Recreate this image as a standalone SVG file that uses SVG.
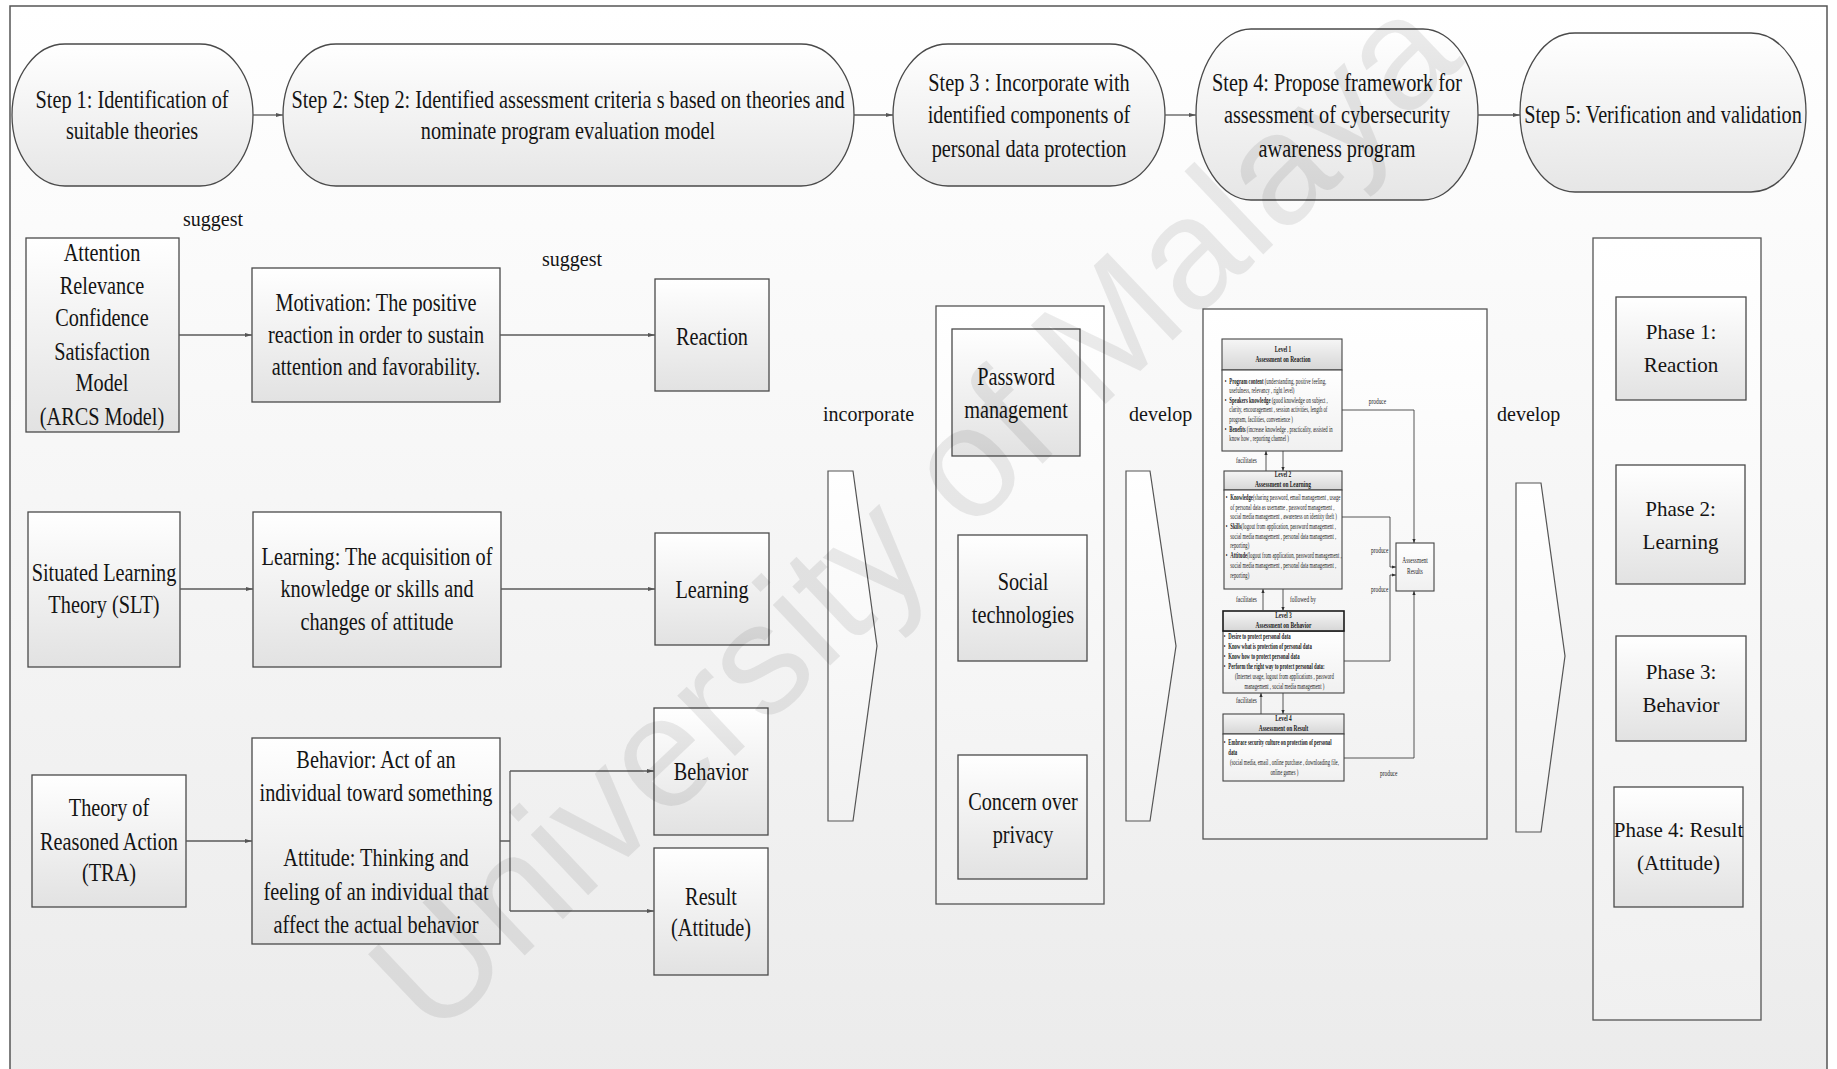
<svg xmlns="http://www.w3.org/2000/svg" width="1837" height="1069" viewBox="0 0 1837 1069">
<defs>
  <linearGradient id="gPanel" x1="0" y1="0" x2="0" y2="1"><stop offset="0" stop-color="#ffffff"/><stop offset="1" stop-color="#ebebeb"/></linearGradient>
  <linearGradient id="gBox" x1="0" y1="0" x2="0" y2="1"><stop offset="0" stop-color="#ffffff"/><stop offset="1" stop-color="#e2e2e2"/></linearGradient>
  <linearGradient id="gStep" x1="0" y1="0" x2="0" y2="1"><stop offset="0" stop-color="#ffffff"/><stop offset="1" stop-color="#e6e6e6"/></linearGradient>
  <linearGradient id="gCont" x1="0" y1="0" x2="0" y2="1"><stop offset="0" stop-color="#ffffff"/><stop offset="1" stop-color="#f0f0f0"/></linearGradient>
  <linearGradient id="gHead" x1="0" y1="0" x2="0" y2="1"><stop offset="0" stop-color="#f6f6f6"/><stop offset="1" stop-color="#d6d6d6"/></linearGradient>
  <linearGradient id="gChev" x1="0" y1="0" x2="0" y2="1"><stop offset="0" stop-color="#ffffff"/><stop offset="1" stop-color="#f2f2f2"/></linearGradient>
  <marker id="ah" viewBox="0 0 10 10" refX="10" refY="5" markerWidth="7" markerHeight="7" orient="auto" markerUnits="userSpaceOnUse"><path d="M0,2 L10,5 L0,8 z" fill="#555"/></marker>
  <marker id="ahs" viewBox="0 0 10 10" refX="10" refY="5" markerWidth="4" markerHeight="4" orient="auto" markerUnits="userSpaceOnUse"><path d="M0,1 L10,5 L0,9 z" fill="#333"/></marker>
</defs>
<style>
.box{stroke:#4a4a4a;stroke-width:1.3;fill:url(#gBox)}
.cont{stroke:#555;stroke-width:1.3;fill:url(#gCont)}
.step{stroke:#4a4a4a;stroke-width:1.3;fill:url(#gStep)}
.chev{stroke:#555;stroke-width:1.2;fill:url(#gChev)}
.head{stroke:#444;stroke-width:1.1;fill:url(#gHead)}
.body{stroke:#444;stroke-width:1.1;fill:url(#gCont)}
.ln{stroke:#5a5a5a;stroke-width:1.3;fill:none;marker-end:url(#ah)}
.fl{stroke:#444;stroke-width:0.9;fill:none;marker-end:url(#ahs)}
.t{font-family:"Liberation Serif","Times New Roman",serif;font-size:26px;fill:#141414;text-anchor:middle}
.lab{font-family:"Liberation Serif","Times New Roman",serif;font-size:20px;fill:#141414}
.ph{font-family:"Liberation Serif","Times New Roman",serif;font-size:21px;fill:#141414;text-anchor:middle}
.s{font-family:"Liberation Serif","Times New Roman",serif;font-size:7.2px;fill:#222}
.sb{font-weight:bold}
.sc{text-anchor:middle}
.wm{font-family:"Liberation Sans",Arial,sans-serif;font-size:158px;fill:#000;fill-opacity:0.08}
</style>

<!-- outer panel -->
<rect x="10" y="6" width="1817" height="1090" fill="url(#gPanel)" stroke="#555" stroke-width="1.5"/>

<!-- process steps -->
<g id="step1">
  <path class="step" d="M65,44 H200 A53,71 0 0 1 200,186 H65 A53,71 0 0 1 65,44 Z"/>
  <g transform="translate(132 0) scale(0.78 1)"><text class="t" y="108">Step 1: Identification of</text><text class="t" y="139">suitable theories</text></g>
</g>
<g id="step2">
  <path class="step" d="M336,44 H801 A53,71 0 0 1 801,186 H336 A53,71 0 0 1 336,44 Z"/>
  <g transform="translate(568 0) scale(0.78 1)"><text class="t" y="108">Step 2: Step 2: Identified assessment criteria  s based on theories and</text><text class="t" y="139">nominate program evaluation model</text></g>
</g>
<g id="step3">
  <path class="step" d="M948,44 H1110 A55,71 0 0 1 1110,186 H948 A55,71 0 0 1 948,44 Z"/>
  <g transform="translate(1029 0) scale(0.78 1)"><text class="t" y="91">Step 3 : Incorporate with</text><text class="t" y="123">identified components of</text><text class="t" y="157">personal data protection</text></g>
</g>
<g id="step4">
  <path class="step" d="M1251,29 H1423 A55,85.5 0 0 1 1423,200 H1251 A55,85.5 0 0 1 1251,29 Z"/>
  <g transform="translate(1337 0) scale(0.78 1)"><text class="t" y="91">Step 4: Propose framework for</text><text class="t" y="123">assessment of cybersecurity</text><text class="t" y="157">awareness program</text></g>
</g>
<g id="step5">
  <path class="step" d="M1575,33 H1751 A55,79.5 0 0 1 1751,192 H1575 A55,79.5 0 0 1 1575,33 Z"/>
  <g transform="translate(1663 0) scale(0.78 1)"><text class="t" y="123">Step 5: Verification and validation</text></g>
</g>

<!-- theories -->
<g id="arcs">
  <rect class="box" x="26" y="238" width="153" height="194"/>
  <g transform="translate(102 0) scale(0.78 1)">
    <text class="t" y="261">Attention</text><text class="t" y="294">Relevance</text><text class="t" y="326">Confidence</text>
    <text class="t" y="360">Satisfaction</text><text class="t" y="391">Model</text><text class="t" y="425">(ARCS Model)</text>
  </g>
</g>
<g id="slt">
  <rect class="box" x="28" y="512" width="152" height="155"/>
  <g transform="translate(104 0) scale(0.78 1)"><text class="t" y="581">Situated Learning</text><text class="t" y="613">Theory (SLT)</text></g>
</g>
<g id="tra">
  <rect class="box" x="32" y="775" width="154" height="132"/>
  <g transform="translate(109 0) scale(0.78 1)"><text class="t" y="816">Theory of</text><text class="t" y="850">Reasoned Action</text><text class="t" y="881">(TRA)</text></g>
</g>

<!-- criteria -->
<g id="motivation">
  <rect class="box" x="252" y="268" width="248" height="134"/>
  <g transform="translate(376 0) scale(0.78 1)"><text class="t" y="311">Motivation: The positive</text><text class="t" y="343">reaction in order to sustain</text><text class="t" y="375">attention and favorability.</text></g>
</g>
<g id="learning-def">
  <rect class="box" x="253" y="512" width="248" height="155"/>
  <g transform="translate(377 0) scale(0.78 1)"><text class="t" y="565">Learning: The acquisition of</text><text class="t" y="597">knowledge or skills and</text><text class="t" y="630">changes of attitude</text></g>
</g>
<g id="behavior-attitude">
  <rect class="box" x="252" y="738" width="248" height="206"/>
  <g transform="translate(376 0) scale(0.78 1)">
    <text class="t" y="768">Behavior: Act of an</text><text class="t" y="801">individual toward something</text>
    <text class="t" y="866">Attitude: Thinking and</text><text class="t" y="900">feeling of an individual that</text><text class="t" y="933">affect the actual behavior</text>
  </g>
</g>

<!-- evaluation levels -->
<g id="reaction">
  <rect class="box" x="655" y="279" width="114" height="112"/>
  <g transform="translate(712 0) scale(0.78 1)"><text class="t" y="345">Reaction</text></g>
</g>
<g id="learning">
  <rect class="box" x="655" y="533" width="114" height="112"/>
  <g transform="translate(712 0) scale(0.78 1)"><text class="t" y="598">Learning</text></g>
</g>
<g id="behavior">
  <rect class="box" x="654" y="708" width="114" height="127"/>
  <g transform="translate(711 0) scale(0.78 1)"><text class="t" y="780">Behavior</text></g>
</g>
<g id="result">
  <rect class="box" x="654" y="848" width="114" height="127"/>
  <g transform="translate(711 0) scale(0.78 1)"><text class="t" y="905">Result</text><text class="t" y="936">(Attitude)</text></g>
</g>

<!-- flow labels and chevrons -->
<g id="labels">
  <text class="lab" x="183" y="226">suggest</text>
  <text class="lab" x="542" y="266">suggest</text>
  <text class="lab" x="823" y="421">incorporate</text>
  <text class="lab" x="1129" y="421">develop</text>
  <text class="lab" x="1497" y="421">develop</text>
</g>
<g id="chevron1"><path class="chev" d="M828,471 H853 L877,646 L853,821 H828 Z"/></g>
<g id="chevron2"><path class="chev" d="M1126,471 H1150 L1176,646 L1150,821 H1126 Z"/></g>
<g id="chevron3"><path class="chev" d="M1516,483 H1541 L1565,656 L1541,832 H1516 Z"/></g>

<!-- personal data protection components -->
<g id="components">
  <rect class="cont" x="936" y="306" width="168" height="598"/>
  <g id="password">
    <rect class="box" x="952" y="329" width="128" height="127"/>
    <g transform="translate(1016 0) scale(0.78 1)"><text class="t" y="385">Password</text><text class="t" y="418">management</text></g>
  </g>
  <g id="social">
    <rect class="box" x="958" y="535" width="129" height="126"/>
    <g transform="translate(1023 0) scale(0.78 1)"><text class="t" y="590">Social</text><text class="t" y="623">technologies</text></g>
  </g>
  <g id="privacy">
    <rect class="box" x="958" y="755" width="129" height="124"/>
    <g transform="translate(1023 0) scale(0.78 1)"><text class="t" y="810">Concern over</text><text class="t" y="843">privacy</text></g>
  </g>
</g>

<!-- assessment framework -->
<g id="framework">
  <rect class="cont" x="1203" y="309" width="284" height="530"/>
  <g id="level1">
    <rect class="head" x="1222" y="339" width="120" height="31"/>
    <rect class="body" x="1222" y="370" width="120" height="81"/>
    <g transform="translate(1283 0) scale(0.75 1)"><text class="s sb sc" y="352">Level 1</text><text class="s sb sc" y="362">Assessment on Reaction</text></g>
    <g transform="translate(1224 0) scale(0.66 1)">
      <text class="s" x="1" y="384.5">•</text><text class="s" x="8" y="384.5"><tspan class="sb">Program content</tspan>  (understanding, positive feeling,</text>
      <text class="s" x="8" y="393.5">usefulness, relevancy , right level)</text>
      <text class="s" x="1" y="403.5">•</text><text class="s" x="8" y="403.5"><tspan class="sb">Speakers knowledge</tspan>  (good knowledge on subject ,</text>
      <text class="s" x="8" y="412.5">clarity, encouragement , session activities, length of</text>
      <text class="s" x="8" y="422.5">program, facilities, convenience )</text>
      <text class="s" x="1" y="432.5">•</text><text class="s" x="8" y="432.5"><tspan class="sb">Benefits</tspan> (increase knowledge , practicality, assisted in</text>
      <text class="s" x="8" y="441.5">know how , reporting channel )</text>
    </g>
  </g>
  <g id="level2">
    <rect class="head" x="1224" y="471" width="118" height="19"/>
    <rect class="body" x="1224" y="490" width="118" height="99"/>
    <g transform="translate(1283 0) scale(0.75 1)"><text class="s sb sc" y="477.5">Level 2</text><text class="s sb sc" y="487.5">Assessment on Learning</text></g>
    <g transform="translate(1225 0) scale(0.66 1)">
      <text class="s" x="1" y="500">•</text><text class="s" x="8" y="500"><tspan class="sb">Knowledge</tspan>(sharing password, email management , usage</text>
      <text class="s" x="8" y="510">of personal data as username , password management ,</text>
      <text class="s" x="8" y="519.5">social media management , awareness on identity theft )</text>
      <text class="s" x="1" y="529">•</text><text class="s" x="8" y="529"><tspan class="sb">Skills</tspan>(logout from application, password management ,</text>
      <text class="s" x="8" y="539">social media management , personal data management ,</text>
      <text class="s" x="8" y="548.5">reporting)</text>
      <text class="s" x="1" y="558.5">•</text><text class="s" x="8" y="558.5"><tspan class="sb">Attitude</tspan>(logout from application, password management ,</text>
      <text class="s" x="8" y="568">social media management , personal data management ,</text>
      <text class="s" x="8" y="578">reporting)</text>
    </g>
  </g>
  <g id="level3">
    <rect class="body" x="1223" y="631" width="121" height="62"/>
    <rect class="head" x="1223" y="611" width="121" height="20" style="stroke:#1a1a1a;stroke-width:1.6"/>
    <g transform="translate(1283.5 0) scale(0.75 1)"><text class="s sb sc" y="618">Level 3</text><text class="s sb sc" y="628">Assessment on Behavior</text></g>
    <g transform="translate(1223 0) scale(0.66 1)">
      <text class="s" x="1" y="639.5">•</text><text class="s sb" x="8" y="639.5">Desire to protect personal data</text>
      <text class="s" x="1" y="649.5">•</text><text class="s sb" x="8" y="649.5">Know what is protection of personal data</text>
      <text class="s" x="1" y="659.5">•</text><text class="s sb" x="8" y="659.5">Know how to protect personal data</text>
      <text class="s" x="1" y="669.5">•</text><text class="s sb" x="8" y="669.5">Perform the right way to protect personal data:</text>
      <text class="s sc" x="93" y="679.5">(Internet usage, logout from applications , password</text>
      <text class="s sc" x="93" y="689">management , social media management )</text>
    </g>
  </g>
  <g id="level4">
    <rect class="head" x="1223" y="714" width="121" height="20"/>
    <rect class="body" x="1223" y="734" width="121" height="47"/>
    <g transform="translate(1283.5 0) scale(0.75 1)"><text class="s sb sc" y="721">Level 4</text><text class="s sb sc" y="731.5">Assessment on Result</text></g>
    <g transform="translate(1223 0) scale(0.66 1)">
      <text class="s" x="1" y="745.5">•</text><text class="s sb" x="8" y="745.5">Embrace security culture on protection of personal</text>
      <text class="s sb" x="8" y="755.5">data</text>
      <text class="s sc" x="93" y="765.5">(social media, email , online purchase , downloading file,</text>
      <text class="s sc" x="93" y="775">online games )</text>
    </g>
  </g>
  <g id="assessment-results">
    <rect class="body" x="1396" y="543" width="38" height="48"/>
    <g transform="translate(1415 0) scale(0.75 1)"><text class="s sc" y="563">Assessment</text><text class="s sc" y="574">Results</text></g>
  </g>
  <g id="framework-labels" transform="scale(0.75 1)">
    <text class="s" x="1825" y="404">produce</text>
    <text class="s" x="1828" y="553">produce</text>
    <text class="s" x="1828" y="592">produce</text>
    <text class="s" x="1840" y="776">produce</text>
    <text class="s" x="1648" y="463">facilitates</text>
    <text class="s" x="1648" y="602">facilitates</text>
    <text class="s" x="1720" y="602">followed by</text>
    <text class="s" x="1648" y="703">facilitates</text>
  </g>
</g>

<!-- evaluation phases -->
<g id="phases">
  <rect class="cont" x="1593" y="238" width="168" height="782"/>
  <g id="phase1"><rect class="box" x="1616" y="297" width="130" height="103"/><text class="ph" x="1681" y="339">Phase 1:</text><text class="ph" x="1681" y="372">Reaction</text></g>
  <g id="phase2"><rect class="box" x="1616" y="465" width="129" height="119"/><text class="ph" x="1680.5" y="516">Phase 2:</text><text class="ph" x="1680.5" y="549">Learning</text></g>
  <g id="phase3"><rect class="box" x="1616" y="636" width="130" height="105"/><text class="ph" x="1681" y="679">Phase 3:</text><text class="ph" x="1681" y="712">Behavior</text></g>
  <g id="phase4"><rect class="box" x="1614" y="787" width="129" height="120"/><text class="ph" x="1678.5" y="837">Phase 4: Result</text><text class="ph" x="1678.5" y="870">(Attitude)</text></g>
</g>

<!-- connectors -->
<g id="connectors">
  <line class="ln" x1="253" y1="115" x2="283" y2="115"/>
  <line class="ln" x1="854" y1="115" x2="893" y2="115"/>
  <line class="ln" x1="1165" y1="115" x2="1196" y2="115"/>
  <line class="ln" x1="1478" y1="115" x2="1520" y2="115"/>
  <line class="ln" x1="179" y1="335" x2="252" y2="335"/>
  <line class="ln" x1="500" y1="335" x2="655" y2="335"/>
  <line class="ln" x1="180" y1="589" x2="253" y2="589"/>
  <line class="ln" x1="501" y1="589" x2="655" y2="589"/>
  <line class="ln" x1="186" y1="841" x2="252" y2="841"/>
  <path class="ln" style="marker-end:none" d="M500,841 H510 M510,771 V911"/>
  <line class="ln" x1="510" y1="771" x2="654" y2="771"/>
  <line class="ln" x1="510" y1="911" x2="654" y2="911"/>
  <!-- framework links -->
  <line class="fl" x1="1266" y1="471" x2="1266" y2="451"/>
  <line class="fl" x1="1283" y1="451" x2="1283" y2="471"/>
  <line class="fl" x1="1263" y1="611" x2="1263" y2="589"/>
  <line class="fl" x1="1283" y1="589" x2="1283" y2="611"/>
  <line class="fl" x1="1261" y1="714" x2="1261" y2="693"/>
  <line class="fl" x1="1283" y1="693" x2="1283" y2="714"/>
  <path class="fl" d="M1342,410 H1414 V543"/>
  <path class="fl" d="M1342,517 H1390 V567 H1396"/>
  <path class="fl" d="M1344,661 H1390 V575 H1396"/>
  <path class="fl" d="M1344,758 H1414 V591"/>
</g>

<!-- repository watermark -->
<text class="wm" x="0" y="0" text-anchor="middle" dominant-baseline="central" transform="translate(912 512) rotate(-43.5)">University of Malaya</text>
</svg>
